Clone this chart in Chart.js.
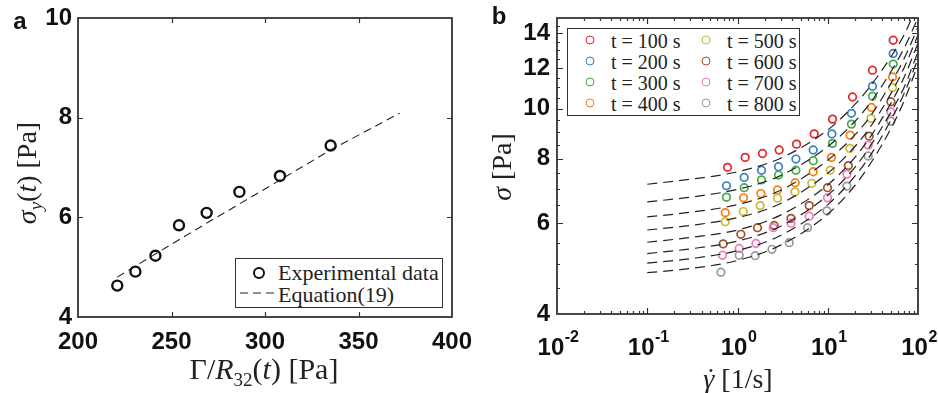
<!DOCTYPE html>
<html>
<head>
<meta charset="utf-8">
<script src="https://cdn.jsdelivr.net/npm/chart.js@4.4.1/dist/chart.umd.min.js"></script>
<style>
  body { margin: 0; background: #fff; }
  #wrap { position: relative; width: 938px; height: 393px; overflow: hidden; background: #fff; }
  canvas { position: absolute; top: 0; }
  .txt { position: absolute; font-family: "Liberation Serif", serif; color: #222; white-space: nowrap; transform: translate(-50%, -50%); line-height: 1; }
  .rot { transform: translate(-50%, -50%) rotate(-90deg); }
  .panel { position: absolute; font-family: "Liberation Sans", Arial, sans-serif; font-weight: bold; font-size: 24px; color: #111; line-height: 1; transform: translate(-50%, -50%); }
  .legend { position: absolute; border: 1.6px solid #333; background: #fff; box-sizing: border-box; font-family: "Liberation Serif", serif; color: #222; }
  .legend .item { position: absolute; white-space: nowrap; line-height: 1; transform: translateY(-50%); }
  .dot { position: absolute; border-radius: 50%; box-sizing: border-box; transform: translate(-50%, -50%); }
  .gdot { position: relative; display: inline-block; }
  .gdot b { position: absolute; left: 3px; right: 0; top: -1px; text-align: center; font-weight: normal; font-style: normal; }
</style>
</head>
<body>
<div id="wrap">
  <canvas id="chartA" width="500" height="393" style="left:0"></canvas>
  <canvas id="chartB" width="469" height="393" style="left:469px"></canvas>

  <div class="panel" style="left:20px; top:21px;">a</div>
  <div class="panel" style="left:499px; top:16px;">b</div>

  <div class="txt" style="left:264px; top:371px; font-size:30px;">&Gamma;/<i>R</i><sub style="font-size:19px">32</sub>(<i>t</i>) [Pa]</div>
  <div class="txt rot" style="left:29px; top:173px; font-size:28px;"><i>&sigma;</i><sub style="font-size:19px"><i>y</i></sub>(<i>t</i>) [Pa]</div>
  <div class="txt" style="left:738px; top:379px; font-size:28px;"><i class="gdot">&gamma;<b>&#729;</b></i> [1/s]</div>
  <div class="txt rot" style="left:502px; top:167px; font-size:28px;"><i>&sigma;</i> [Pa]</div>

  <div class="legend" id="legA" style="left:235px; top:258px; width:208px; height:50px;"></div>
  <div class="legend" id="legB" style="left:567px; top:28px; width:233px; height:88px;"></div>
</div>

<script>
// ---- panel a data ----
const xTicksA = [200, 250, 300, 350, 400];
const yTicksA = [4, 6, 8, 10];
const gammaOverR = [221, 230.7, 241.4, 254, 268.8, 286.3, 308, 335.1];
const sigmaYield = [4.63, 4.91, 5.23, 5.84, 6.09, 6.51, 6.83, 7.44];
const eqX = [221, 242, 270, 300, 335, 372];
const eqY = [4.80, 5.28, 5.91, 6.57, 7.35, 8.09];
const legendA = ['Experimental data', 'Equation(19)'];

// ---- panel b data ----
const times = ['t = 100 s', 't = 200 s', 't = 300 s', 't = 400 s', 't = 500 s', 't = 600 s', 't = 700 s', 't = 800 s'];
const colors = ['#e4262a', '#3a7fc1', '#43ab45', '#fa7d12', '#cbb935', '#a0522d', '#f07ab8', '#999999'];

const rate100 = [0.775, 1.217, 1.892, 2.897, 4.51, 7.08, 11.29, 18.8, 31.3, 53.1];
const rate200 = [0.755, 1.186, 1.845, 2.847, 4.44, 6.90, 11.12, 18.3, 31.3, 53.1];
const rate300 = [0.755, 1.186, 1.845, 2.847, 4.44, 6.90, 11.29, 18.3, 31.3, 53.1];
const rate400 = [0.731, 1.166, 1.817, 2.775, 4.36, 6.90, 11.0, 17.7, 30.5, 52.2];
const rate500 = [0.731, 1.158, 1.785, 2.775, 4.33, 6.67, 10.65, 17.6, 30.1, 52.2];
const rate600 = [0.694, 1.09, 1.666, 2.55, 3.91, 6.23, 9.94, 16.9, 28.8, 50.1];
const rate700 = [0.682, 1.044, 1.60, 2.49, 3.91, 6.23, 9.94, 16.3, 28.1, 50.1];
const rate800 = [0.655, 1.044, 1.571, 2.41, 3.74, 5.97, 9.79, 16.3, 28.1, 50.1];

const stress100 = [7.70, 8.05, 8.19, 8.32, 8.54, 8.94, 9.55, 10.54, 11.88, 13.58];
const stress200 = [7.09, 7.36, 7.60, 7.72, 7.99, 8.32, 8.94, 9.80, 11.06, 12.80];
const stress300 = [6.74, 7.03, 7.28, 7.44, 7.60, 7.93, 8.57, 9.34, 10.58, 12.21];
const stress400 = [6.29, 6.72, 6.85, 6.96, 7.19, 7.55, 8.05, 8.89, 10.06, 11.53];
const stress500 = [6.04, 6.32, 6.49, 6.71, 6.90, 7.17, 7.60, 8.38, 9.58, 11.00];
const stress600 = [5.47, 5.71, 5.88, 5.94, 6.13, 6.49, 7.03, 7.76, 8.85, 10.32];
const stress700 = [5.20, 5.36, 5.48, 5.88, 6.00, 6.19, 6.72, 7.47, 8.50, 9.86];
const stress800 = [4.82, 5.20, 5.19, 5.34, 5.50, 5.88, 6.34, 7.08, 8.10, 9.46];

const fitRate = [0.1, 0.3, 1, 3, 10, 20, 30, 50, 70, 100];
const fit100 = [7.14, 7.30, 7.55, 8.02, 9.10, 10.2, 11.1, 12.6, 13.9, 16.0];
const fit200 = [6.60, 6.74, 6.98, 7.42, 8.45, 9.45, 10.3, 11.8, 13.1, 15.0];
const fit300 = [6.17, 6.30, 6.52, 6.95, 7.95, 8.90, 9.70, 11.2, 12.5, 14.4];
const fit400 = [5.82, 5.94, 6.15, 6.55, 7.50, 8.45, 9.25, 10.7, 12.0, 13.9];
const fit500 = [5.51, 5.63, 5.82, 6.22, 7.12, 8.05, 8.85, 10.25, 11.5, 13.4];
const fit600 = [5.24, 5.35, 5.54, 5.92, 6.80, 7.70, 8.50, 9.85, 11.0, 12.9];
const fit700 = [5.02, 5.12, 5.31, 5.68, 6.52, 7.40, 8.15, 9.50, 10.7, 12.5];
const fit800 = [4.81, 4.90, 5.08, 5.44, 6.25, 7.10, 7.85, 9.15, 10.35, 12.2];

const xTicksB = [0.01, 0.1, 1, 10, 100];
const xTickExpB = ['-2', '-1', '0', '1', '2'];
const yTicksB = [4, 6, 8, 10, 12, 14];
const yTickLabelsB = ['4', '6', '8', '10', '12', '14'];

// minor tick positions for the log axes of panel b
const xMinorB = [];
[0.01, 0.1, 1, 10].forEach(d => { for (let k = 2; k <= 9; k++) xMinorB.push(+(d * k).toPrecision(3)); });
const yMinorB = [4.5, 5, 5.5, 6.5, 7, 7.5, 8.5, 9, 9.5, 10.5, 11, 11.5, 12.5, 13, 13.5, 14.5];

const pts = (xs, ys) => xs.map((v, i) => ({x: v, y: ys[i]}));
const SANS = '"Liberation Sans", Arial, sans-serif';

// inward ticks on all four sides plus the closed box, like the original figure
const boxTicks = {
  id: 'boxTicks',
  afterDatasetsDraw(chart, args, o) {
    const {ctx, chartArea: a, scales: {x, y}} = chart;
    ctx.save();
    ctx.strokeStyle = '#333';
    ctx.lineWidth = 1.2;
    ctx.beginPath();
    const xt = (vals, len) => vals.forEach(v => {
      const p = Math.round(x.getPixelForValue(v)) + 0.5;
      if (p <= a.left + 1 || p >= a.right - 1) return;
      ctx.moveTo(p, a.bottom); ctx.lineTo(p, a.bottom - len);
      ctx.moveTo(p, a.top); ctx.lineTo(p, a.top + len);
    });
    const yt = (vals, len) => vals.forEach(v => {
      const p = Math.round(y.getPixelForValue(v)) + 0.5;
      if (p <= a.top + 1 || p >= a.bottom - 1) return;
      ctx.moveTo(a.left, p); ctx.lineTo(a.left + len, p);
      ctx.moveTo(a.right, p); ctx.lineTo(a.right - len, p);
    });
    xt(o.xMajor || [], o.majorLen);
    xt(o.xMinor || [], o.minorLen);
    yt(o.yMajor || [], o.majorLen);
    yt(o.yMinor || [], o.minorLen);
    ctx.stroke();
    ctx.lineWidth = 1.8;
    ctx.strokeRect(a.left, a.top, a.right - a.left, a.bottom - a.top);

    // power-of-ten labels under the log x axis (base + raised exponent)
    if (o.powers) {
      ctx.fillStyle = '#111';
      ctx.textBaseline = 'alphabetic';
      o.powers.forEach((v, i) => {
        const p = x.getPixelForValue(v);
        ctx.font = 'bold 24px ' + SANS;
        const wb = ctx.measureText('10').width;
        ctx.font = 'bold 16px ' + SANS;
        const we = ctx.measureText(o.exps[i]).width;
        const left = p - (wb + we) / 2 + 1;
        ctx.font = 'bold 24px ' + SANS;
        ctx.fillText('10', left, a.bottom + 41);
        ctx.font = 'bold 16px ' + SANS;
        ctx.fillText(o.exps[i], left + wb + 0.5, a.bottom + 28);
      });
    }
    ctx.restore();
  }
};

const tickFont = {family: SANS, weight: 'bold', size: 24, lineHeight: 1};

function fixAxis(kind, size) {
  return function (s) {
    if (kind === 'y') { s.width = size; s.paddingTop = 0; s.paddingBottom = 0; }
    else { s.height = size; s.paddingLeft = 0; s.paddingRight = 0; }
  };
}

// ---- chart a ----
new Chart(document.getElementById('chartA'), {
  type: 'scatter',
  data: {
    datasets: [
      {
        label: legendA[1], data: pts(eqX, eqY), showLine: true, borderColor: '#222', borderWidth: 1.1,
        borderDash: [8, 5], pointRadius: 0, tension: 0, order: 1
      },
      {
        label: legendA[0], data: pts(gammaOverR, sigmaYield), showLine: false, pointRadius: 5,
        pointBorderWidth: 2.4, borderColor: '#111', backgroundColor: 'rgba(0,0,0,0)', order: 0
      }
    ]
  },
  options: {
    responsive: false, animation: false,
    layout: {padding: {left: 0, top: 18, right: 48, bottom: 0}},
    plugins: {
      legend: {display: false}, tooltip: {enabled: false},
      boxTicks: {xMajor: xTicksA, yMajor: yTicksA, majorLen: 5, minorLen: 3}
    },
    scales: {
      x: {
        type: 'linear', min: 200, max: 400,
        grid: {display: false, drawTicks: false}, border: {display: false},
        afterBuildTicks: s => { s.ticks = xTicksA.map(v => ({value: v})); },
        afterFit: fixAxis('x', 76),
        ticks: {font: tickFont, color: '#111', padding: 13, maxRotation: 0, autoSkip: false}
      },
      y: {
        type: 'linear', min: 4, max: 10,
        grid: {display: false, drawTicks: false}, border: {display: false},
        afterBuildTicks: s => { s.ticks = yTicksA.map(v => ({value: v})); },
        afterFit: fixAxis('y', 78),
        ticks: {font: tickFont, color: '#111', padding: 6, autoSkip: false}
      }
    }
  },
  plugins: [boxTicks]
});

// ---- chart b ----
const rates = [rate100, rate200, rate300, rate400, rate500, rate600, rate700, rate800];
const stresses = [stress100, stress200, stress300, stress400, stress500, stress600, stress700, stress800];
const fits = [fit100, fit200, fit300, fit400, fit500, fit600, fit700, fit800];

const dsB = [];
fits.forEach((f, i) => dsB.push({
  label: 'fit ' + times[i], data: pts(fitRate, f), showLine: true, borderColor: '#222',
  borderWidth: 1.2, borderDash: [10, 6], pointRadius: 0, cubicInterpolationMode: 'monotone', order: 0
}));
rates.forEach((r, i) => dsB.push({
  label: times[i], data: pts(r, stresses[i]), showLine: false, pointRadius: 3.8,
  pointBorderWidth: 1.7, borderColor: colors[i], backgroundColor: 'rgba(0,0,0,0)', order: 20 - i
}));

new Chart(document.getElementById('chartB'), {
  type: 'scatter',
  data: {datasets: dsB},
  options: {
    responsive: false, animation: false,
    layout: {padding: {left: 0, top: 18, right: 20, bottom: 0}},
    plugins: {
      legend: {display: false}, tooltip: {enabled: false},
      boxTicks: {xMajor: xTicksB, xMinor: xMinorB, yMajor: yTicksB, yMinor: yMinorB, majorLen: 6, minorLen: 3,
        powers: xTicksB, exps: xTickExpB}
    },
    scales: {
      x: {
        type: 'logarithmic', min: 0.01, max: 100,
        grid: {display: false, drawTicks: false}, border: {display: false},
        afterBuildTicks: s => { s.ticks = xTicksB.map(v => ({value: v})); },
        afterFit: fixAxis('x', 79),
        ticks: {display: false}
      },
      y: {
        type: 'logarithmic', min: 4, max: 15,
        grid: {display: false, drawTicks: false}, border: {display: false},
        afterBuildTicks: s => { s.ticks = yTicksB.map(v => ({value: v})); },
        afterFit: fixAxis('y', 88),
        ticks: {font: tickFont, color: '#111', padding: 7, autoSkip: false,
          callback: (v, i) => yTickLabelsB[i]}
      }
    }
  },
  plugins: [boxTicks]
});

// ---- legends ----
const legA = document.getElementById('legA');
legA.innerHTML =
  '<span class="dot" style="left:23px; top:14px; width:12px; height:12px; border:2.4px solid #111"></span>' +
  '<span class="item" style="left:42px; top:14px; font-size:22px">' + legendA[0] + '</span>' +
  '<svg style="position:absolute; left:4px; top:31px" width="38" height="6"><line x1="0" y1="3" x2="38" y2="3" stroke="#222" stroke-width="1.2" stroke-dasharray="8,5"/></svg>' +
  '<span class="item" style="left:42px; top:36px; font-size:22px">' + legendA[1] + '</span>';

const legB = document.getElementById('legB');
times.forEach((t, i) => {
  const col = Math.floor(i / 4), row = i % 4;
  const cx = col === 0 ? 22 : 138, tx = col === 0 ? 43 : 159;
  const cy = 11 + row * 21;
  legB.insertAdjacentHTML('beforeend',
    '<span class="dot" style="left:' + cx + 'px; top:' + cy + 'px; width:9px; height:9px; border:1.7px solid ' + colors[i] + '"></span>' +
    '<span class="item" style="left:' + tx + 'px; top:' + (cy + 1) + 'px; font-size:20px">' + t + '</span>');
});
</script>
</body>
</html>
